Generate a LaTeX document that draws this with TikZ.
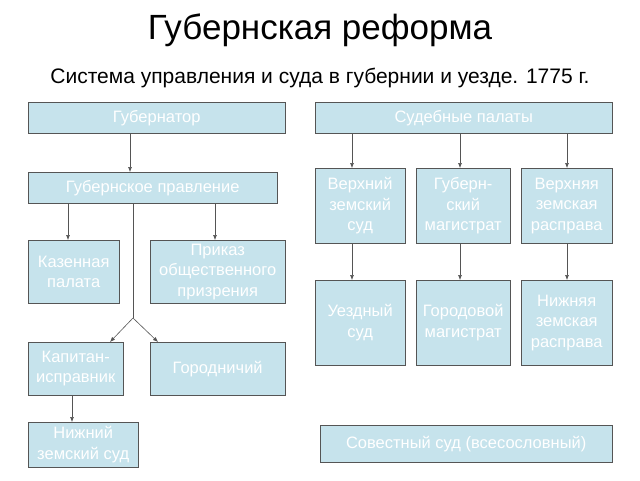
\documentclass[tikz,border=0pt]{standalone}
\usetikzlibrary{arrows.meta}
\usepackage{fontspec}
\setmainfont{Liberation Sans}
\definecolor{boxfill}{HTML}{C6E3EC}
\definecolor{boxline}{HTML}{555555}
\begin{document}
\begin{tikzpicture}[x=1pt,y=-1pt,
  bx/.style={draw=boxline,fill=boxfill,text=white,font=\fontsize{16.5}{20.5}\selectfont,align=center,inner sep=0pt},
  ar/.style={-{Latex[length=5pt,width=4pt]},draw=boxline,line width=0.6pt}]
\useasboundingbox (0,0) rectangle (640,480);
\node[font=\fontsize{35}{38}\selectfont] (t) at (320,30) {Губернская реформа};
\node[font=\fontsize{21}{24}\selectfont] (s) at (320,78) {Система управления и суда в губернии и уезде. 1775 г.};
\newcommand{\bxn}[6]{\node[bx,minimum width=#4-#2,minimum height=#5-#3,anchor=north west] (#1) at (#2,#3) {#6};}
\bxn{gub}{28}{102}{285}{133}{Губернатор}
\bxn{sud}{315}{102}{612}{133}{Судебные палаты}
\bxn{prav}{28}{172}{277}{203}{Губернское правление}
\bxn{vzs}{315}{168}{405}{243}{Верхний\\земский\\суд}
\bxn{gm}{416}{168}{510}{243}{Губерн-\\ский\\магистрат}
\bxn{vzr}{521}{168}{612}{243}{Верхняя\\земская\\расправа}
\bxn{kaz}{28}{240}{119}{303}{Казенная\\палата}
\bxn{prik}{150}{240}{285}{303}{Приказ\\общественного\\призрения}
\bxn{uez}{315}{280}{405}{365}{Уездный\\суд}
\bxn{gor}{416}{280}{510}{365}{Городовой\\магистрат}
\bxn{nzr}{521}{280}{612}{365}{Нижняя\\земская\\расправа}
\bxn{kap}{28}{342}{123}{395}{Капитан-\\исправник}
\bxn{gch}{150}{342}{285}{395}{Городничий}
\bxn{nzs}{28}{422}{138}{467}{Нижний\\земский суд}
\bxn{sov}{320}{425}{612}{462}{Совестный суд (всесословный)}
\coordinate (sp) at (133,318);
\draw[ar] (gub.south -| 130,0) -- (prav.north -| 130,0);
\draw[ar] (prav.south -| 68,0) -- (kaz.north -| 68,0);
\draw[ar] (prav.south -| 215,0) -- (prik.north -| 215,0);
\draw[draw=boxline,line width=0.6pt] (prav.south -| 133,0) -- (sp);
\draw[ar] (sp) -- (kap.north -| 110,0);
\draw[ar] (sp) -- (gch.north -| 158,0);
\draw[ar] (kap.south -| 72,0) -- (nzs.north -| 72,0);
\foreach \a/\b/\x in {sud/vzs/352,sud/gm/460,sud/vzr/567,vzs/uez/352,gm/gor/460,vzr/nzr/567}
  \draw[ar] (\a.south -| \x,0) -- (\b.north -| \x,0);
\end{tikzpicture}
\end{document}
